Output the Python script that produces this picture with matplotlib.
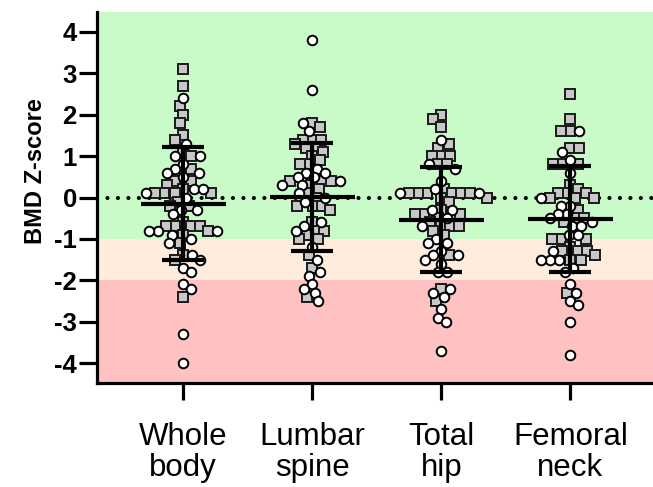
import numpy as np
import matplotlib
matplotlib.use('Agg')
import matplotlib.pyplot as plt

plt.rcParams['font.family'] = ['Liberation Sans', 'DejaVu Sans']

sites = ['Whole\nbody', 'Lumbar\nspine', 'Total\nhip', 'Femoral\nneck']

# grey squares
sq_whole = [3.1, 2.7, 2.2, 2.0, 1.8, 1.5, 1.4, 1.1, 1.0, 0.7, 0.4, 0.4, 0.3, 0.2, 0.1, 0.1, 0.1, 0.1,
            -0.1, -0.2, -0.2, -0.6, -0.7, -0.7, -0.7, -0.7, -0.8, -0.9, -1.1, -1.4, -1.5, -2.4]
sq_spine = [1.8, 1.7, 1.4, 1.4, 1.4, 1.3, 1.2, 1.2, 1.1, 1.0, 0.9, 0.8, 0.8, 0.4, 0.4, 0.4, 0.3, 0.2,
            0.1, 0.0, -0.2, -0.2, -0.2, -0.3, -0.6, -0.8, -0.8, -0.9, -1.0, -1.0, -1.4, -1.7, -2.4]
sq_hip = [2.0, 1.9, 1.7, 1.3, 1.2, 1.0, 1.0, 1.0, 0.8, 0.8, 0.2, 0.1, 0.1, 0.1, 0.1, 0.1, 0.1, 0.0, 0.0,
          -0.1, -0.3, -0.4, -0.4, -0.4, -0.5, -0.6, -0.7, -0.7, -0.7, -0.8, -0.9, -1.4, -2.2, -2.5]
sq_neck = [2.5, 1.9, 1.6, 1.6, 1.2, 1.2, 0.8, 0.8, 0.8, 0.3, 0.2, 0.1, 0.1, 0.1, 0.0, 0.0, 0.0,
           -0.3, -0.5, -0.5, -0.6, -1.0, -1.0, -1.0, -1.2, -1.3, -1.3, -1.3, -1.4, -1.5, -1.5, -2.3]

# white circles
ci_whole = [2.4, 1.3, 1.0, 1.0, 0.8, 0.7, 0.6, 0.6, 0.5, 0.2, 0.2, 0.1, 0.0, -0.3, -0.3, -0.4,
            -0.8, -0.8, -0.8, -0.9, -1.0, -1.1, -1.4, -1.5, -1.7, -1.8, -2.1, -2.2, -3.3, -4.0]
ci_spine = [3.8, 2.6, 1.8, 1.6, 0.7, 0.6, 0.6, 0.5, 0.5, 0.4, 0.3, 0.3, 0.1, 0.0, -0.1, -0.6,
            -0.7, -0.8, -1.2, -1.5, -1.8, -1.9, -2.1, -2.2, -2.3, -2.5]
ci_hip = [1.4, 0.8, 0.7, 0.4, 0.2, 0.1, 0.1, -0.3, -0.3, -0.5, -0.7, -1.0, -1.1, -1.1, -1.3, -1.4,
          -1.4, -1.5, -1.6, -1.8, -1.8, -2.2, -2.3, -2.4, -2.7, -2.9, -3.0, -3.7]
ci_neck = [1.6, 1.1, 0.9, 0.6, 0.0, -0.2, -0.2, -0.4, -0.4, -0.5, -0.6, -0.7, -0.7, -0.9, -0.9,
           -1.3, -1.5, -1.5, -1.5, -1.7, -1.8, -2.1, -2.3, -2.5, -2.6, -3.0, -3.8]

means = [-0.15, 0.02, -0.54, -0.53]
sds = [1.37, 1.30, 1.27, 1.28]

squares = [sq_whole, sq_spine, sq_hip, sq_neck]
circles = [ci_whole, ci_spine, ci_hip, ci_neck]

W, H = 653, 487
fig = plt.figure(figsize=(W/100, H/100), dpi=100)
ax = fig.add_axes([97/W, 104/H, (W-97)/W, 371/H])
xlim = (0.333, 4.64)
ylim = (-4.48, 4.48)
ax.set_xlim(xlim)
ax.set_ylim(ylim)

# pixels per data unit, for the swarm layout
sx = (W-97)/(xlim[1]-xlim[0])
sy = 371/(ylim[1]-ylim[0])


def swarm(vals, d=8.8):
    placed = []
    offs = []
    flip = 1
    for v in vals:
        y = v*sy
        best = None
        k = 0
        while best is None:
            cands = [0.0] if k == 0 else [flip*k*0.5, -flip*k*0.5]
            for c in cands:
                if all((c-px)**2 + (y-py)**2 >= d*d for px, py in placed):
                    best = c
                    break
            k += 1
        flip = -flip
        placed.append((best, y))
        offs.append(best/sx)
    return np.array(offs)


ax.axhspan(-1, ylim[1], color='#c9fbc9', lw=0, zorder=0)
ax.axhspan(-2, -1, color='#ffecdc', lw=0, zorder=0)
ax.axhspan(ylim[0], -2, color='#ffc1c1', lw=0, zorder=0)
ax.axhline(0, color='k', lw=3.0, linestyle=(0, (0.01, 2.5)), dash_capstyle='round', zorder=1)

xs = np.arange(1, len(sites)+1)
for i in range(len(sites)):
    vals = np.array(squares[i] + circles[i])
    kind = np.array([0]*len(squares[i]) + [1]*len(circles[i]))
    order = np.argsort(-vals, kind='stable')
    vals = vals[order]
    kind = kind[order]
    off = swarm(vals)
    m = kind == 0
    ax.plot(xs[i]+off[m], vals[m], 's', ms=6.6, mfc='#c8c8c8', mec='#1a1a1a', mew=1.4, zorder=3)
    ax.plot(xs[i]+off[~m], vals[~m], 'o', ms=6.9, mfc='white', mec='black', mew=1.4, zorder=3)

ax.errorbar(xs, means, yerr=sds, fmt='none', ecolor='black', elinewidth=3, capsize=15, capthick=3, zorder=4)
ax.hlines(means, xs-0.33, xs+0.33, color='black', lw=3, zorder=4)

for s in ['top', 'right']:
    ax.spines[s].set_visible(False)
for s in ['left', 'bottom']:
    ax.spines[s].set_linewidth(2.3)
ax.set_yticks(np.arange(-4, 5, 1))
ax.set_yticklabels([str(v) for v in range(-4, 5)], fontsize=18.5, fontweight='bold')
ax.set_xticks(xs)
ax.set_xticklabels(sites, fontsize=22.5, linespacing=1.05)
ax.tick_params(axis='y', length=13, width=2.3, pad=1.5)
ax.tick_params(axis='x', length=12, width=2.3, pad=16)
ax.set_ylabel('BMD Z-score', fontsize=17, fontweight='bold')
ax.yaxis.set_label_coords(-0.09, 0.57)

plt.savefig('out.png', dpi=100)
